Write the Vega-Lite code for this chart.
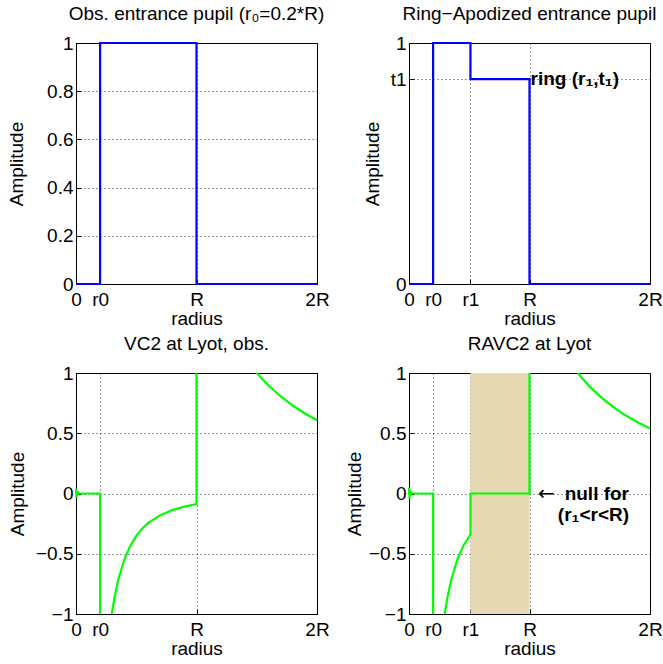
{
  "$schema": "https://vega.github.io/schema/vega-lite/v6.json",
  "background": "white",
  "padding": {"left": 6, "top": 4, "right": 0, "bottom": 0},
  "columns": 2,
  "spacing": {"row": 89, "column": 92},
  "bounds": "flush",
  "config": {
    "font": "Liberation Sans",
    "view": {"stroke": "#000", "strokeWidth": 1},
    "title": {"fontSize": 19, "fontWeight": "normal", "color": "#000", "offset": 10, "baseline": "alphabetic", "frame": "group"},
    "axis": {
      "labelFontSize": 19, "titleFontSize": 19, "titleFontWeight": "normal",
      "labelColor": "#000", "titleColor": "#000", "domainColor": "#000", "tickColor": "#000",
      "tickSize": -5, "grid": true, "gridColor": "#000", "gridDash": [1, 3], "gridOpacity": 0.8,
      "labelFlush": false, "labelOverlap": false, "labelBound": false
    },
    "axisX": {"labelPadding": 11, "titlePadding": 0},
    "axisY": {"labelPadding": 8}
  },
  "datasets": {
    "p1": [
      {"i": 0, "x": 0, "y": 0}, {"i": 1, "x": 0.2, "y": 0}, {"i": 2, "x": 0.2, "y": 1},
      {"i": 3, "x": 1, "y": 1}, {"i": 4, "x": 1, "y": 0}, {"i": 5, "x": 2, "y": 0}
    ],
    "p2": [
      {"i": 0, "x": 0, "y": 0}, {"i": 1, "x": 0.2, "y": 0}, {"i": 2, "x": 0.2, "y": 1},
      {"i": 3, "x": 0.51, "y": 1}, {"i": 4, "x": 0.51, "y": 0.85}, {"i": 5, "x": 1, "y": 0.85},
      {"i": 6, "x": 1, "y": 0}, {"i": 7, "x": 2, "y": 0}
    ],
    "p3": [
      {"s": "a", "i": 0, "x": 0, "y": 0.04}, {"s": "a", "i": 1, "x": 0.004, "y": -0.035},
      {"s": "a", "i": 2, "x": 0.008, "y": 0.025}, {"s": "a", "i": 3, "x": 0.012, "y": -0.015},
      {"s": "a", "i": 4, "x": 0.018, "y": 0.008}, {"s": "a", "i": 5, "x": 0.025, "y": 0},
      {"s": "a", "i": 6, "x": 0.2, "y": 0}, {"s": "a", "i": 7, "x": 0.2, "y": -1},
      {"s": "b", "i": 8, "x": 0.2966, "y": -1}, {"s": "b", "i": 9, "x": 0.32, "y": -0.859},
      {"s": "b", "i": 10, "x": 0.35, "y": -0.718}, {"s": "b", "i": 11, "x": 0.4, "y": -0.55},
      {"s": "b", "i": 12, "x": 0.45, "y": -0.435}, {"s": "b", "i": 13, "x": 0.5, "y": -0.352},
      {"s": "b", "i": 14, "x": 0.55, "y": -0.291}, {"s": "b", "i": 15, "x": 0.6, "y": -0.244},
      {"s": "b", "i": 16, "x": 0.7, "y": -0.18}, {"s": "b", "i": 17, "x": 0.8, "y": -0.1375},
      {"s": "b", "i": 18, "x": 0.9, "y": -0.109}, {"s": "b", "i": 19, "x": 1, "y": -0.088},
      {"s": "b", "i": 20, "x": 1, "y": 1},
      {"s": "c", "i": 21, "x": 1.5, "y": 1}, {"s": "c", "i": 22, "x": 1.6, "y": 0.894},
      {"s": "c", "i": 23, "x": 1.7, "y": 0.805}, {"s": "c", "i": 24, "x": 1.8, "y": 0.73},
      {"s": "c", "i": 25, "x": 1.9, "y": 0.664}, {"s": "c", "i": 26, "x": 2, "y": 0.608}
    ],
    "p4": [
      {"s": "a", "i": 0, "x": 0, "y": 0.05}, {"s": "a", "i": 1, "x": 0.004, "y": -0.04},
      {"s": "a", "i": 2, "x": 0.008, "y": 0.03}, {"s": "a", "i": 3, "x": 0.012, "y": -0.015},
      {"s": "a", "i": 4, "x": 0.018, "y": 0.008}, {"s": "a", "i": 5, "x": 0.025, "y": 0},
      {"s": "a", "i": 6, "x": 0.2, "y": 0}, {"s": "a", "i": 7, "x": 0.2, "y": -1},
      {"s": "b", "i": 8, "x": 0.2966, "y": -1}, {"s": "b", "i": 9, "x": 0.32, "y": -0.859},
      {"s": "b", "i": 10, "x": 0.35, "y": -0.718}, {"s": "b", "i": 11, "x": 0.4, "y": -0.55},
      {"s": "b", "i": 12, "x": 0.45, "y": -0.435}, {"s": "b", "i": 13, "x": 0.51, "y": -0.338},
      {"s": "b", "i": 14, "x": 0.51, "y": 0}, {"s": "b", "i": 15, "x": 1, "y": 0},
      {"s": "b", "i": 16, "x": 1, "y": 1},
      {"s": "c", "i": 17, "x": 1.4, "y": 1}, {"s": "c", "i": 18, "x": 1.5, "y": 0.887},
      {"s": "c", "i": 19, "x": 1.6, "y": 0.794}, {"s": "c", "i": 20, "x": 1.7, "y": 0.715},
      {"s": "c", "i": 21, "x": 1.8, "y": 0.647}, {"s": "c", "i": 22, "x": 1.9, "y": 0.59},
      {"s": "c", "i": 23, "x": 2, "y": 0.54}
    ]
  },
  "concat": [
    {
      "width": 241, "height": 241,
      "title": "Obs. entrance pupil (r₀=0.2*R)",
      "data": {"name": "p1"},
      "mark": {"type": "line", "color": "#0000ff", "strokeWidth": 2.2},
      "encoding": {
        "x": {"field": "x", "type": "quantitative", "scale": {"domain": [0, 2], "nice": false, "zero": false},
              "axis": {"values": [0, 0.2, 1, 2], "title": "radius",
                       "labelExpr": "datum.value == 0 ? '0' : datum.value == 0.2 ? 'r0' : datum.value == 1 ? 'R' : '2R'"}},
        "y": {"field": "y", "type": "quantitative", "scale": {"domain": [0, 1], "nice": false},
              "axis": {"values": [0, 0.2, 0.4, 0.6, 0.8, 1], "format": ".1~f", "title": "Amplitude", "titleX": -50}},
        "order": {"field": "i"}
      }
    },
    {
      "width": 241, "height": 241,
      "title": "Ring−Apodized entrance pupil",
      "encoding": {
        "x": {"field": "x", "type": "quantitative", "scale": {"domain": [0, 2], "nice": false, "zero": false},
              "axis": {"values": [0, 0.2, 0.51, 1, 2], "title": "radius",
                       "labelExpr": "datum.value == 0 ? '0' : datum.value == 0.2 ? 'r0' : datum.value == 0.51 ? 'r1' : datum.value == 1 ? 'R' : '2R'"}},
        "y": {"field": "y", "type": "quantitative", "scale": {"domain": [0, 1], "nice": false},
              "axis": {"values": [0, 0.85, 1], "format": ".1~f", "title": "Amplitude", "titleX": -27,
                       "labelExpr": "datum.value == 0.85 ? 't1' : datum.label"}}
      },
      "layer": [
        {
          "data": {"name": "p2"},
          "mark": {"type": "line", "color": "#0000ff", "strokeWidth": 2.2},
          "encoding": {"order": {"field": "i"}}
        },
        {
          "data": {"values": [{"x": 1, "y": 0.85, "t": "ring (r₁,t₁)"}]},
          "mark": {"type": "text", "align": "left", "baseline": "middle", "dx": 1, "fontSize": 19, "fontWeight": "bold", "color": "#000"},
          "encoding": {"text": {"field": "t"}}
        }
      ]
    },
    {
      "width": 241, "height": 241,
      "title": "VC2 at Lyot, obs.",
      "data": {"name": "p3"},
      "mark": {"type": "line", "color": "#00ff00", "strokeWidth": 2.2},
      "encoding": {
        "x": {"field": "x", "type": "quantitative", "scale": {"domain": [0, 2], "nice": false, "zero": false},
              "axis": {"values": [0, 0.2, 1, 2], "title": "radius",
                       "labelExpr": "datum.value == 0 ? '0' : datum.value == 0.2 ? 'r0' : datum.value == 1 ? 'R' : '2R'"}},
        "y": {"field": "y", "type": "quantitative", "scale": {"domain": [-1, 1], "nice": false},
              "axis": {"values": [-1, -0.5, 0, 0.5, 1], "format": ".1~f", "title": "Amplitude", "titleX": -49}},
        "detail": {"field": "s"},
        "order": {"field": "i"}
      }
    },
    {
      "width": 241, "height": 241,
      "title": "RAVC2 at Lyot",
      "encoding": {
        "x": {"field": "x", "type": "quantitative", "scale": {"domain": [0, 2], "nice": false, "zero": false},
              "axis": {"values": [0, 0.2, 0.51, 1, 2], "title": "radius",
                       "labelExpr": "datum.value == 0 ? '0' : datum.value == 0.2 ? 'r0' : datum.value == 0.51 ? 'r1' : datum.value == 1 ? 'R' : '2R'"}},
        "y": {"field": "y", "type": "quantitative", "scale": {"domain": [-1, 1], "nice": false},
              "axis": {"values": [-1, -0.5, 0, 0.5, 1], "format": ".1~f", "title": "Amplitude", "titleX": -45}}
      },
      "layer": [
        {
          "data": {"values": [{"x": 0.51, "x2": 1, "y": -1, "y2": 1}]},
          "mark": {"type": "rect", "color": "#E6D9B3"},
          "encoding": {"x2": {"field": "x2"}, "y2": {"field": "y2"}}
        },
        {
          "data": {"name": "p4"},
          "mark": {"type": "line", "color": "#00ff00", "strokeWidth": 2.2},
          "encoding": {"detail": {"field": "s"}, "order": {"field": "i"}}
        },
        {
          "data": {"values": [{"x": 1.07, "y": 0, "t": "←"}]},
          "mark": {"type": "text", "align": "left", "baseline": "middle", "font": "DejaVu Sans", "fontSize": 20, "fontWeight": "normal", "color": "#000"},
          "encoding": {"text": {"field": "t"}}
        },
        {
          "data": {"values": [{"x": 1.826, "y": 0, "t": "null for"}, {"x": 1.826, "y": -0.18, "t": "(r₁<r<R)"}]},
          "mark": {"type": "text", "align": "right", "baseline": "middle", "fontSize": 19, "fontWeight": "bold", "color": "#000"},
          "encoding": {"text": {"field": "t"}}
        }
      ]
    }
  ]
}
